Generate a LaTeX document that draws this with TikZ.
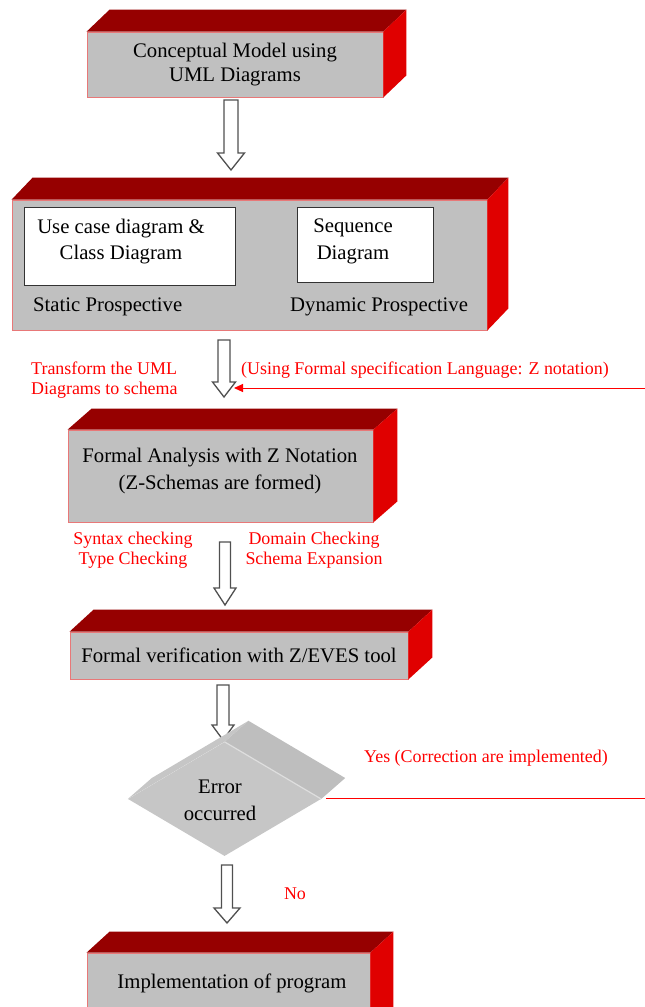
\documentclass[tikz,border=0pt]{standalone}
\usepackage{fontspec}
\setmainfont{Liberation Serif}
\usetikzlibrary{calc,shapes.geometric,arrows.meta}
\definecolor{topred}{RGB}{150,0,0}
\definecolor{sidered}{RGB}{224,0,0}
\definecolor{frontgray}{RGB}{192,192,192}
\definecolor{edgepink}{RGB}{232,120,120}
\definecolor{arrowgray}{RGB}{80,80,80}
\definecolor{txtred}{RGB}{255,0,0}
\definecolor{dfront}{RGB}{198,198,198}
\definecolor{dside}{RGB}{190,190,190}
\definecolor{dcrease}{RGB}{222,222,222}

\newcommand\bigfont{\fontsize{20.8}{27}\selectfont}
\newcommand\redfont{\fontsize{18}{20}\selectfont}

\tikzset{
  frontbox/.style={draw=edgepink, line width=0.8bp, fill=frontgray, inner sep=0pt, font=\bigfont, align=center},
  innerbox/.style={draw=black!80, line width=1bp, fill=white, inner sep=0pt},
  blacktext/.style={font=\bigfont, inner sep=0pt, align=center},
  redlabel/.style={font=\redfont, text=txtred, inner sep=0pt, align=center},
  blockarr/.style={draw=arrowgray, line width=1.3bp, fill=white, line join=miter},
  redline/.style={draw=txtred, line width=1bp},
}

% #1 node, #2 dx, #3 dy
\newcommand\extrude[3]{%
  \fill[topred] (#1.north west) -- ++(#2,#3) -- ($(#1.north east)+(#2,#3)$) -- (#1.north east) -- cycle;
  \fill[sidered] (#1.north east) -- ++(#2,#3) -- ($(#1.south east)+(#2,#3)$) -- (#1.south east) -- cycle;
}
% #1 start, #2 tip, #3 head length, #4 shaft half width, #5 head half width
\newcommand\blockarrow[5]{%
  \draw[blockarr] let \p1=(#1), \p2=(#2) in
    (\x2-#4,\y1) -- (\x2-#4,\y2+#3) -- (\x2-#5,\y2+#3) -- (\x2,\y2)
    -- (\x2+#5,\y2+#3) -- (\x2+#4,\y2+#3) -- (\x2+#4,\y1) -- cycle;
}

\begin{document}
\begin{tikzpicture}[x=1bp,y=-1bp]
\useasboundingbox (0,0) rectangle (645,1007);

% Box 1
\node[frontbox, minimum width=296bp, minimum height=65bp] (b1) at (235,64.5) {Conceptual Model using\\[-2bp]UML Diagrams};
\extrude{b1}{23}{-22}

% Box 2
\node[frontbox, minimum width=475bp, minimum height=130bp] (b2) at (249.5,265) {};
\extrude{b2}{21}{-22}
\node[innerbox, minimum width=210bp, minimum height=78bp] (uc) at (130,246) {};
\node[blacktext] (uct) at (121,241.5) {Use case diagram \&\\Class Diagram};
\node[innerbox, minimum width=136bp, minimum height=75bp] (sq) at (365,244.5) {};
\node[blacktext] (sqt) at (353,241.5) {Sequence\\Diagram};
\node[blacktext, anchor=west] (stat) at (33,307) {Static Prospective};
\node[blacktext, anchor=west] (dyn) at (290,307) {Dynamic Prospective};

% Box 3
\node[frontbox, minimum width=305bp, minimum height=92bp] (b3) at (220.5,476) {};
\extrude{b3}{24}{-21}
\node[blacktext] (b3t) at (220,471) {Formal Analysis with Z Notation\\(Z-Schemas are formed)};

% Box 4
\node[frontbox, minimum width=338bp, minimum height=47bp] (b4) at (239,655.5) {Formal verification with Z/EVES tool};
\extrude{b4}{24}{-22}

% Box 5
\node[frontbox, minimum width=283bp, minimum height=78bp] (b5) at (228.5,992) {};
\extrude{b5}{23}{-21}
\node[blacktext] (b5t) at (232,983) {Implementation of program};

% Arrows
\coordinate (a1s) at (231,100);  \coordinate (a1e) at (231,170);
\coordinate (a2s) at (224,340);  \coordinate (a2e) at (224,397);
\coordinate (a3s) at (225,542);  \coordinate (a3e) at (225,605);
\coordinate (a4s) at (223,685);  \coordinate (a4e) at (223,740);
\coordinate (a5s) at (227,865);  \coordinate (a5e) at (227,923);
\blockarrow{a1s}{a1e}{17bp}{7bp}{13.5bp}
\blockarrow{a2s}{a2e}{15bp}{6bp}{11.5bp}
\blockarrow{a3s}{a3e}{17bp}{5.5bp}{11bp}
\blockarrow{a4s}{a4e}{15bp}{6bp}{11bp}
\blockarrow{a5s}{a5e}{15bp}{5.5bp}{13bp}

% Red input arrow
\coordinate (rin) at (645,388);
\coordinate (rtip) at (234,388);
\draw[redline, -{Triangle[length=9bp,width=8bp]}] (rin) -- (rtip);

% Red labels
\node[redlabel, align=left, anchor=west] (trans) at (31,380) {Transform the UML\\Diagrams to schema};
\node[redlabel, anchor=west] (using) at (241,370) {(Using Formal specification Language: Z notation)};
\node[redlabel] (syn) at (133,550) {Syntax checking\\Type Checking};
\node[redlabel] (dom) at (314,550) {Domain Checking\\Schema Expansion};

% Decision
\node[diamond, fill=dfront, minimum width=193bp, minimum height=114bp, inner sep=0pt] (err) at (224.5,799) {};
\fill[dfront] (err.west) -- ++(24,-21) -- ($(err.north)+(24,-21)$) -- (err.north) -- cycle;
\fill[dside] (err.north) -- ++(24,-21) -- ($(err.east)+(24,-21)$) -- (err.east) -- cycle;
\draw[dcrease, line width=1.2bp] (err.north) -- (err.east);
\node[blacktext] (errt) at (220,800) {Error\\occurred};

\coordinate (yesend) at (645,798);
\draw[redline] ($(err.east)+(5,-1)$) -- (yesend);
\node[redlabel] (yes) at (486,758) {Yes (Correction are implemented)};
\node[redlabel] (no) at (295,894) {No};
\end{tikzpicture}
\end{document}
